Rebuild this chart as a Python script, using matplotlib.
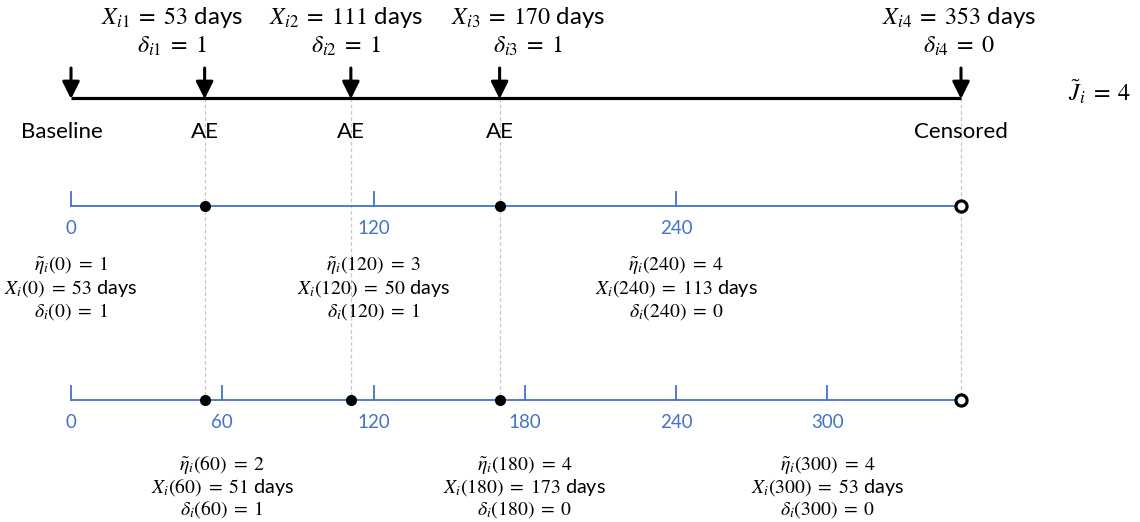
import matplotlib
matplotlib.use("Agg")
import matplotlib.pyplot as plt

plt.rcParams['font.family'] = ['Lato', 'DejaVu Sans']
plt.rcParams['mathtext.fontset'] = 'stix'

# ---- data ----
event_days = [53, 111, 170, 353]
event_delta = [1, 1, 1, 0]
event_labels = ["AE", "AE", "AE", "Censored"]
n_events = 4

mid_ticks = [0, 120, 240]
mid_starts = [0, 120, 240]
mid_eta = [1, 3, 4]
mid_X = [53, 50, 113]
mid_delta = [1, 1, 0]

bot_ticks = [0, 60, 120, 180, 240, 300]
bot_starts = [60, 180, 300]
bot_eta = [2, 4, 4]
bot_X = [51, 173, 53]
bot_delta = [1, 0, 0]

mid_events = [53, 170]          # first event after each middle start
bot_events = [53, 111, 170]     # first event after each bottom start
end_day = 353

BLUE = '#4472C4'
W, H = 1140, 522
x0_px, x1_px = 71, 961
k = (x1_px - x0_px) / end_day

fig = plt.figure(figsize=(W / 100, H / 100), dpi=100)
ax = fig.add_axes([0, 0, 1, 1])
ax.set_xlim(-x0_px / k, (W - x0_px) / k)
ax.set_ylim(H, 0)
ax.axis('off')

def px(x):
    return (x - x0_px) / k

EQ = r"\;=\;"
FS_TOP = 17.3
FS_ANN = 14.2
FS_LBL = 16

# ---- top timeline ----
y_top = 98
ax.plot([0, end_day], [y_top, y_top], color='black', lw=2.3, solid_capstyle='butt', zorder=3)
for xd in [0] + event_days:
    ax.annotate('', xy=(xd, y_top + 1), xytext=(xd, 68),
                arrowprops=dict(arrowstyle='-|>,head_length=0.8,head_width=0.4',
                                color='black', lw=2.2, mutation_scale=13,
                                shrinkA=0, shrinkB=0), zorder=4)

label_px = [172, 346, 528, 959]
for j, (xd, d, lp) in enumerate(zip(event_days, event_delta, label_px)):
    ax.text(px(lp), 17, rf"$X_{{i{j+1}}}{EQ}{xd}$ days", ha='center', va='center', fontsize=FS_TOP)
    ax.text(px(lp), 46, rf"$\delta_{{i{j+1}}}{EQ}{d}$", ha='center', va='center', fontsize=FS_TOP)

ax.text(px(1100), 92, rf"$\tilde{{J}}_i{EQ}{n_events}$", ha='center', va='center', fontsize=FS_TOP)

ax.text(px(62), 132, "Baseline", ha='center', va='center', fontsize=FS_LBL)
for xd, lab in zip(event_days, event_labels):
    ax.text(xd, 132, lab, ha='center', va='center', fontsize=FS_LBL)

# dashed guides
y_mid, y_bot = 206, 400
for xd in event_days:
    ax.plot([xd, xd], [y_top, y_bot], color='#c8c8c8', lw=0.9, ls=(0, (3, 2)), zorder=1)

# ---- middle timeline ----
ax.plot([0, end_day], [y_mid, y_mid], color=BLUE, lw=1.3, zorder=2)
for t in mid_ticks:
    ax.plot([t, t], [y_mid, y_mid - 14], color=BLUE, lw=1.3, zorder=2)
    ax.text(t, 229, str(t), ha='center', va='center', color=BLUE, fontsize=13.5)
ax.plot(mid_events, [y_mid] * len(mid_events), 'o', color='black', ms=7, zorder=5)
ax.plot([end_day], [y_mid], 'o', mfc='white', mec='black', mew=2.3, ms=8, zorder=5)

for s, e, xv, dv in zip(mid_starts, mid_eta, mid_X, mid_delta):
    ax.text(s, 265, rf"$\tilde{{\eta}}_i({s}){EQ}{e}$", ha='center', va='center', fontsize=FS_ANN)
    ax.text(s, 289, rf"$X_i({s}){EQ}{xv}$ days", ha='center', va='center', fontsize=FS_ANN)
    ax.text(s, 312, rf"$\delta_i({s}){EQ}{dv}$", ha='center', va='center', fontsize=FS_ANN)

# ---- bottom timeline ----
ax.plot([0, end_day], [y_bot, y_bot], color=BLUE, lw=1.3, zorder=2)
for t in bot_ticks:
    ax.plot([t, t], [y_bot, y_bot - 14], color=BLUE, lw=1.3, zorder=2)
    ax.text(t, 423, str(t), ha='center', va='center', color=BLUE, fontsize=13.5)
ax.plot(bot_events, [y_bot] * len(bot_events), 'o', color='black', ms=7, zorder=5)
ax.plot([end_day], [y_bot], 'o', mfc='white', mec='black', mew=2.3, ms=8, zorder=5)

for s, e, xv, dv in zip(bot_starts, bot_eta, bot_X, bot_delta):
    ax.text(s, 465, rf"$\tilde{{\eta}}_i({s}){EQ}{e}$", ha='center', va='center', fontsize=FS_ANN)
    ax.text(s, 488, rf"$X_i({s}){EQ}{xv}$ days", ha='center', va='center', fontsize=FS_ANN)
    ax.text(s, 510, rf"$\delta_i({s}){EQ}{dv}$", ha='center', va='center', fontsize=FS_ANN)

fig.savefig('out.png', dpi=100, facecolor='white')
